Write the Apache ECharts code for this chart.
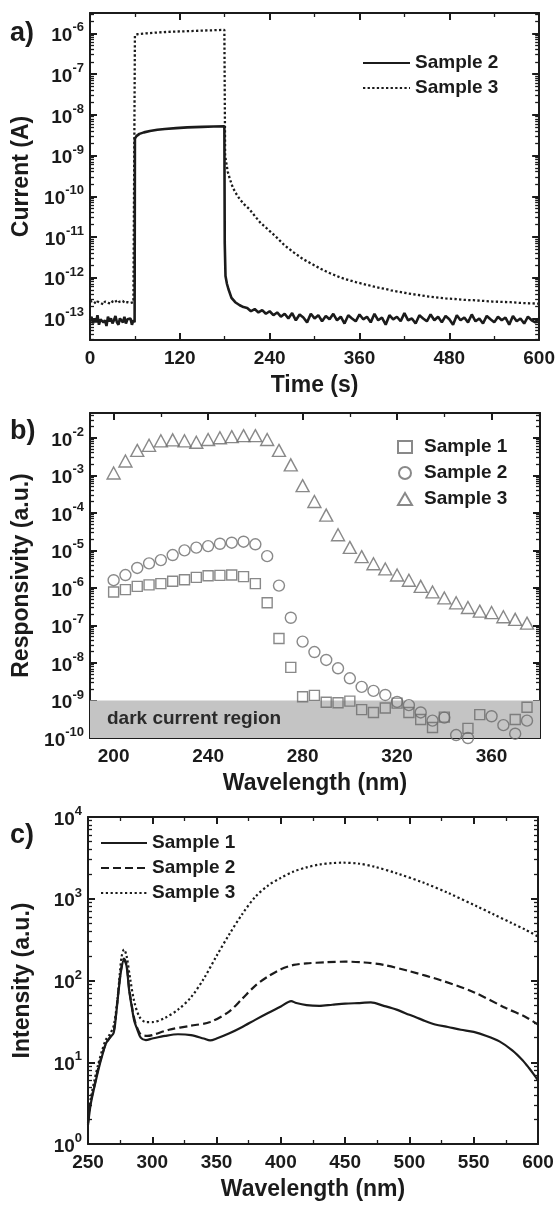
<!DOCTYPE html>
<html>
<head>
<meta charset="utf-8">
<script src="https://cdn.jsdelivr.net/npm/echarts@6/dist/echarts.min.js"></script>
<style>
  html, body { margin: 0; padding: 0; background: #fff; }
  #main { width: 558px; height: 1207px; }
</style>
</head>
<body>
<div id="main"></div>
<script>
// ---------- a) photocurrent response, light on 60 s - 180 s ----------
const timeTicks = [0, 120, 240, 360, 480, 600];
const timeMinorTicks = [60, 180, 300, 420, 540];
const currentTicks = [1e-13, 1e-12, 1e-11, 1e-10, 1e-9, 1e-8, 1e-7, 1e-6];

const s2Time = [0,2,4,6,8,10,12,14,16,18,20,22,24,26,28,30,32,34,36,38,40,42,44,46,48,50,52,54,56,58,
  59.6,60,62,66,72,80,90,100,115,130,150,165,179.5,180,181,183,185,189,194,
  200,205,210,215,220,225,230,235,240,245,250,255,260,265,270,275,280,285,290,295,
  300,305,310,315,320,325,330,335,340,345,350,355,360,365,370,375,380,385,390,395,
  400,405,410,415,420,425,430,435,440,445,450,455,460,465,470,475,480,485,490,495,
  500,505,510,515,520,525,530,535,540,545,550,555,560,565,570,575,580,585,590,595,600];
const s2Current = [0.9e-13,1.1e-13,0.75e-13,1.0e-13,0.8e-13,1.2e-13,0.7e-13,0.95e-13,1.05e-13,0.8e-13,
  0.9e-13,0.65e-13,1.1e-13,0.85e-13,1.0e-13,0.75e-13,0.9e-13,1.15e-13,0.8e-13,0.7e-13,
  1.0e-13,0.9e-13,0.8e-13,1.1e-13,0.75e-13,0.95e-13,0.85e-13,1.0e-13,0.7e-13,0.9e-13,
  0.8e-13,2.6e-9,3.0e-9,3.4e-9,3.7e-9,4.0e-9,4.3e-9,4.5e-9,4.7e-9,4.9e-9,5.05e-9,5.15e-9,5.2e-9,
  7e-12,1.1e-12,7e-13,5.2e-13,3.2e-13,2.5e-13,
  2.1e-13,1.9e-13,1.8e-13,1.5e-13,1.7e-13,1.4e-13,1.6e-13,1.3e-13,1.5e-13,1.2e-13,
  1.4e-13,1.1e-13,1.3e-13,1.0e-13,1.35e-13,0.9e-13,1.25e-13,1.05e-13,0.8e-13,1.3e-13,
  1.0e-13,1.2e-13,0.85e-13,1.15e-13,0.95e-13,1.3e-13,0.9e-13,1.1e-13,0.75e-13,1.2e-13,
  1.0e-13,0.85e-13,1.25e-13,0.95e-13,1.1e-13,0.8e-13,1.3e-13,0.9e-13,1.05e-13,0.7e-13,
  1.2e-13,0.95e-13,1.1e-13,0.85e-13,1.35e-13,0.9e-13,1.0e-13,0.75e-13,1.2e-13,1.0e-13,
  0.85e-13,1.25e-13,0.9e-13,1.1e-13,0.8e-13,1.15e-13,0.95e-13,0.7e-13,1.2e-13,0.9e-13,
  1.05e-13,0.8e-13,1.25e-13,0.85e-13,1.0e-13,0.75e-13,1.15e-13,0.95e-13,0.8e-13,1.1e-13,
  0.9e-13,1.05e-13,0.7e-13,1.15e-13,0.85e-13,1.0e-13,0.75e-13,1.1e-13,0.9e-13,0.8e-13,1.0e-13];

const s3Time = [0,2,4,6,8,10,12,14,16,18,20,22,24,26,28,30,32,34,36,38,40,42,44,46,48,50,52,54,56,58,
  59.6,60,64,75,90,110,130,150,170,179.5,180.5,184,187,191,196,200,206,213,220,228,235,242,250,260,
  272,284,296,308,320,335,345,355,368,380,390,402,413,425,437,450,462,475,487,500,512,525,537,550,
  562,575,587,600];
const s3Current = [2.6e-13,2.4e-13,2.7e-13,2.5e-13,2.3e-13,2.6e-13,2.8e-13,2.4e-13,2.5e-13,2.2e-13,
  2.6e-13,2.7e-13,2.4e-13,2.5e-13,2.3e-13,2.6e-13,2.5e-13,2.8e-13,2.4e-13,2.3e-13,
  2.6e-13,2.5e-13,2.7e-13,2.4e-13,2.2e-13,2.5e-13,2.6e-13,2.4e-13,2.3e-13,2.5e-13,
  2.4e-13,9.0e-7,9.6e-7,1.0e-6,1.05e-6,1.1e-6,1.13e-6,1.17e-6,1.2e-6,1.22e-6,
  1.0e-9,4.0e-10,2.6e-10,1.6e-10,1.1e-10,8.5e-11,6.3e-11,4.8e-11,3.3e-11,2.2e-11,1.7e-11,1.3e-11,
  9.5e-12,6.2e-12,4.2e-12,2.9e-12,2.2e-12,1.66e-12,1.3e-12,1.0e-12,8.8e-13,7.8e-13,6.8e-13,6.0e-13,
  5.5e-13,4.9e-13,4.5e-13,4.1e-13,3.8e-13,3.5e-13,3.3e-13,3.1e-13,3.0e-13,2.85e-13,2.8e-13,2.7e-13,
  2.6e-13,2.55e-13,2.5e-13,2.4e-13,2.35e-13,2.3e-13];

// ---------- b) spectral responsivity ----------
const respTicks = [1e-10, 1e-9, 1e-8, 1e-7, 1e-6, 1e-5, 1e-4, 1e-3, 1e-2];
const respWlTicks = [200, 240, 280, 320, 360];
const respWlMinorTicks = [220, 260, 300, 340, 380];
const respWavelength = [200,205,210,215,220,225,230,235,240,245,250,255,260,265,270,275,280,285,
  290,295,300,305,310,315,320,325,330,335,340,345,350,355,360,365,370,375];
const respSample1 = [7.8e-7,9e-7,1.1e-6,1.2e-6,1.3e-6,1.5e-6,1.65e-6,1.9e-6,2.1e-6,2.15e-6,2.2e-6,2.0e-6,
  1.3e-6,4.0e-7,4.5e-8,7.6e-9,1.26e-9,1.37e-9,9e-10,8.7e-10,9.6e-10,5.7e-10,4.8e-10,6.3e-10,
  8.5e-10,4.8e-10,3.1e-10,1.9e-10,3.6e-10,null,1.8e-10,4.2e-10,null,null,3.1e-10,6.6e-10];
const respSample2 = [1.6e-6,2.2e-6,3.4e-6,4.5e-6,5.5e-6,7.5e-6,1.0e-5,1.18e-5,1.3e-5,1.5e-5,1.6e-5,1.7e-5,
  1.45e-5,7e-6,1.15e-6,1.6e-7,3.7e-8,1.95e-8,1.2e-8,7.2e-9,3.9e-9,2.3e-9,1.8e-9,1.4e-9,
  9.2e-10,7.5e-10,4.8e-10,2.9e-10,3.5e-10,1.2e-10,1.0e-10,null,3.8e-10,2.2e-10,1.3e-10,2.9e-10];
const respSample3 = [1.15e-3,2.4e-3,4.6e-3,6.3e-3,8.3e-3,8.8e-3,8.3e-3,7.6e-3,9.0e-3,1.0e-2,1.07e-2,1.14e-2,
  1.14e-2,9e-3,4.6e-3,1.9e-3,5.3e-4,2.0e-4,8.7e-5,2.6e-5,1.2e-5,6.8e-6,4.4e-6,3.2e-6,
  2.2e-6,1.6e-6,1.1e-6,7.8e-7,5.4e-7,4.0e-7,3.0e-7,2.4e-7,2.2e-7,1.7e-7,1.45e-7,1.15e-7];
const darkCurrentBand = [1e-10, 1e-9];

// ---------- c) photoluminescence spectra ----------
const plTicks = [1, 10, 100, 1000, 10000];
const plWlTicks = [250, 300, 350, 400, 450, 500, 550, 600];
const plWlMinorTicks = [275, 325, 375, 425, 475, 525, 575];
const pl1Wl = [250,252,255,258,261,264,267,270,272,274,276,278,280,282,284,286,288,291,295,300,
  310,320,330,340,345,350,360,370,380,390,400,408,412,420,430,440,450,460,470,480,490,500,510,520,
  530,540,550,560,570,580,588,593,597,600];
const pl1Int = [1.7,3.0,5.0,8.0,12,17,20,23,40,80,140,180,150,76,48,32,26,20,18.7,19.5,
  21,22,21.5,19.5,18.5,19.5,22.6,27,33,40,48,56,53,50,49,50.5,52,53,54,49,44,38,33,29,
  27,25,23.5,21,18,14,10.6,8.5,7,6];
const pl2Wl = [250,252,255,258,261,264,267,270,272,274,276,278,280,282,284,286,288,291,296,300,
  313,330,345,360,370,380,390,400,410,420,435,450,465,480,500,525,550,575,590,600];
const pl2Int = [1.8,3.2,5.2,8.5,12.5,17,20,24,42,85,145,185,155,80,50,34,27,22,21,21.5,
  25,28,31,42,60,86,112,137,155,162,167,170,166,155,130,100,72,46,36,29];
const pl3Wl = [250,252,255,258,261,264,267,270,273,276,278,280,283,286,290,295,300,310,320,330,
  340,350,360,370,380,390,400,410,420,430,440,448,460,473,490,512,530,553,565,580,590,600];
const pl3Int = [2.0,3.5,6,9.5,14,19,22,28,60,190,240,200,100,55,36,31,31,35,44,62,
  105,200,370,650,1050,1450,1800,2150,2420,2620,2730,2760,2700,2460,2050,1550,1180,800,650,500,420,345];

// ---------- styling helpers ----------
const FONT = '"Liberation Sans", Arial, Helvetica, sans-serif';
const INK = '#1b1b1b';
const MARK = '#6b6b6b';

function pairs(xs, ys) {
  const out = [];
  for (let i = 0; i < xs.length; i++) if (ys[i] != null) out.push([xs[i], ys[i]]);
  return out;
}
function logMinor(lo, hi) {
  const out = [];
  for (let e = lo; e < hi; e++) for (let k = 2; k <= 9; k++) out.push(k * Math.pow(10, e));
  return out;
}
function powLabel(v) {
  const e = Math.round(Math.log10(v));
  return '{b|10}{s|' + e + '}';
}
const powRich = {
  b: { fontSize: 19, fontWeight: 'bold', fontFamily: FONT, color: INK, lineHeight: 24, verticalAlign: 'bottom' },
  s: { fontSize: 13, fontWeight: 'bold', fontFamily: FONT, color: INK, lineHeight: 13, verticalAlign: 'top' }
};

// four framing axes per side pair: labelled major, minor ticks, mirrored major, mirrored minor
function frameAxes(kind, g, cfg) {
  const near = kind === 'x' ? 'bottom' : 'left';
  const far = kind === 'x' ? 'top' : 'right';
  const base = () => {
    const o = { gridIndex: g, type: cfg.type, min: cfg.min, max: cfg.max, splitLine: { show: false } };
    if (cfg.type === 'log') o.logBase = 10;
    return o;
  };
  const line = (show) => ({ show, onZero: false, lineStyle: { color: INK, width: 2 } });
  const major = () => ({ show: true, inside: true, length: 7, customValues: cfg.major, lineStyle: { color: INK, width: 2 } });
  const minor = () => ({ show: true, inside: true, length: 4, customValues: cfg.minor, lineStyle: { color: INK, width: 1.3 } });
  const main = Object.assign(base(), {
    position: near, axisLine: line(true), axisTick: major(),
    axisLabel: {
      show: true, customValues: cfg.major, formatter: cfg.fmt, rich: cfg.rich, margin: cfg.margin,
      fontSize: 19, fontWeight: 'bold', color: INK, fontFamily: FONT
    },
    name: cfg.name, nameLocation: 'middle', nameGap: cfg.nameGap, nameRotate: kind === 'y' ? 90 : 0,
    nameTextStyle: { fontSize: 23, fontWeight: 'bold', color: INK, fontFamily: FONT }
  });
  return [
    main,
    Object.assign(base(), { position: near, axisLine: line(false), axisTick: minor(), axisLabel: { show: false } }),
    Object.assign(base(), { position: far, axisLine: line(true), axisTick: major(), axisLabel: { show: false } }),
    Object.assign(base(), { position: far, axisLine: line(false), axisTick: minor(), axisLabel: { show: false } })
  ];
}

const xAxes = [].concat(
  frameAxes('x', 0, { type: 'value', min: 0, max: 600, major: timeTicks, minor: timeMinorTicks,
    margin: 9, name: 'Time (s)', nameGap: 34 }),
  frameAxes('x', 1, { type: 'value', min: 190, max: 380.5, major: respWlTicks, minor: respWlMinorTicks,
    margin: 9, name: 'Wavelength (nm)', nameGap: 34 }),
  frameAxes('x', 2, { type: 'value', min: 250, max: 600, major: plWlTicks, minor: plWlMinorTicks,
    margin: 9, name: 'Wavelength (nm)', nameGap: 34 })
);
const yAxes = [].concat(
  frameAxes('y', 0, { type: 'log', min: Math.pow(10, -13.53), max: Math.pow(10, -5.5), major: currentTicks,
    minor: logMinor(-14, -5).filter(v => v > Math.pow(10, -13.53) && v < Math.pow(10, -5.5)),
    fmt: powLabel, rich: powRich, margin: 6, name: 'Current (A)', nameGap: 54 }),
  frameAxes('y', 1, { type: 'log', min: 1e-10, max: Math.pow(10, -1.34), major: respTicks,
    minor: logMinor(-10, -1).filter(v => v < Math.pow(10, -1.34)),
    fmt: powLabel, rich: powRich, margin: 6, name: 'Responsivity (a.u.)', nameGap: 54 }),
  frameAxes('y', 2, { type: 'log', min: 1, max: 10000, major: plTicks, minor: logMinor(0, 4),
    fmt: powLabel, rich: powRich, margin: 6, name: 'Intensity (a.u.)', nameGap: 54 })
);

const legendText = { fontSize: 19, fontWeight: 'bold', color: INK, fontFamily: FONT, lineHeight: 20 };
const showName = n => n.split('|')[1];
const hollow = { color: 'rgba(0,0,0,0)', borderColor: MARK, borderWidth: 1.4 };

const option = {
  animation: false,
  backgroundColor: '#fff',
  grid: [
    { left: 90, top: 13, width: 450, height: 327 },
    { left: 90, top: 413, width: 450, height: 325 },
    { left: 88, top: 817, width: 450, height: 327 }
  ],
  xAxis: xAxes,
  yAxis: yAxes,
  legend: [
    { left: 362, top: 53, padding: 0, orient: 'vertical', itemWidth: 47, itemHeight: 14, itemGap: 5,
      itemStyle: { opacity: 0 }, textStyle: legendText, formatter: showName, selectedMode: false,
      data: ['a|Sample 2', 'a|Sample 3'] },
    { left: 397, top: 437, padding: 0, orient: 'vertical', itemWidth: 14, itemHeight: 12, itemGap: 6,
      textStyle: Object.assign({}, legendText, { padding: [0, 0, 0, 7] }), formatter: showName, selectedMode: false,
      data: ['b|Sample 1', 'b|Sample 2', 'b|Sample 3'] },
    { left: 100, top: 833, padding: 0, orient: 'vertical', itemWidth: 46, itemHeight: 14, itemGap: 5,
      itemStyle: { opacity: 0 }, textStyle: legendText, formatter: showName, selectedMode: false,
      data: ['c|Sample 1', 'c|Sample 2', 'c|Sample 3'] }
  ],
  graphic: [
    { type: 'text', left: 10, top: 20, style: { text: 'a)', font: 'bold 27px ' + FONT, fill: INK } },
    { type: 'text', left: 10, top: 418, style: { text: 'b)', font: 'bold 27px ' + FONT, fill: INK } },
    { type: 'text', left: 10, top: 822, style: { text: 'c)', font: 'bold 27px ' + FONT, fill: INK } }
  ],
  series: [
    // a)
    { type: 'line', name: 'a|Sample 3', xAxisIndex: 0, yAxisIndex: 0, data: pairs(s3Time, s3Current),
      symbol: 'none', lineStyle: { color: INK, width: 2.3, type: [2.3, 2.3] }, itemStyle: { color: INK } },
    { type: 'line', name: 'a|Sample 2', xAxisIndex: 0, yAxisIndex: 0, data: pairs(s2Time, s2Current),
      symbol: 'none', lineStyle: { color: INK, width: 2.6 }, itemStyle: { color: INK } },
    // b)
    { type: 'scatter', name: 'b|Sample 1', xAxisIndex: 4, yAxisIndex: 4, data: pairs(respWavelength, respSample1),
      symbol: 'rect', symbolSize: 10, itemStyle: hollow,
      markArea: {
        silent: true,
        itemStyle: { color: '#c4c4c4' },
        label: { show: true, position: 'insideLeft', offset: [12, 0], fontSize: 19, fontWeight: 'bold',
          color: '#2a2a2a', fontFamily: FONT },
        data: [[{ name: 'dark current region', yAxis: darkCurrentBand[0] }, { yAxis: darkCurrentBand[1] }]]
      } },
    { type: 'scatter', name: 'b|Sample 2', xAxisIndex: 4, yAxisIndex: 4, data: pairs(respWavelength, respSample2),
      symbol: 'circle', symbolSize: 11, itemStyle: hollow },
    { type: 'scatter', name: 'b|Sample 3', xAxisIndex: 4, yAxisIndex: 4, data: pairs(respWavelength, respSample3),
      symbol: 'triangle', symbolSize: [13, 12], itemStyle: hollow },
    // c)
    { type: 'line', name: 'c|Sample 1', xAxisIndex: 8, yAxisIndex: 8, data: pairs(pl1Wl, pl1Int), smooth: 0.3,
      symbol: 'none', lineStyle: { color: INK, width: 2.2 }, itemStyle: { color: INK } },
    { type: 'line', name: 'c|Sample 2', xAxisIndex: 8, yAxisIndex: 8, data: pairs(pl2Wl, pl2Int), smooth: 0.3,
      symbol: 'none', lineStyle: { color: INK, width: 2.2, type: [8, 4] }, itemStyle: { color: INK } },
    { type: 'line', name: 'c|Sample 3', xAxisIndex: 8, yAxisIndex: 8, data: pairs(pl3Wl, pl3Int), smooth: 0.3,
      symbol: 'none', lineStyle: { color: INK, width: 2.2, type: [2.2, 2.6] }, itemStyle: { color: INK } }
  ]
};

const chart = echarts.init(document.getElementById('main'), null, { renderer: 'canvas' });
chart.setOption(option);
</script>
</body>
</html>
